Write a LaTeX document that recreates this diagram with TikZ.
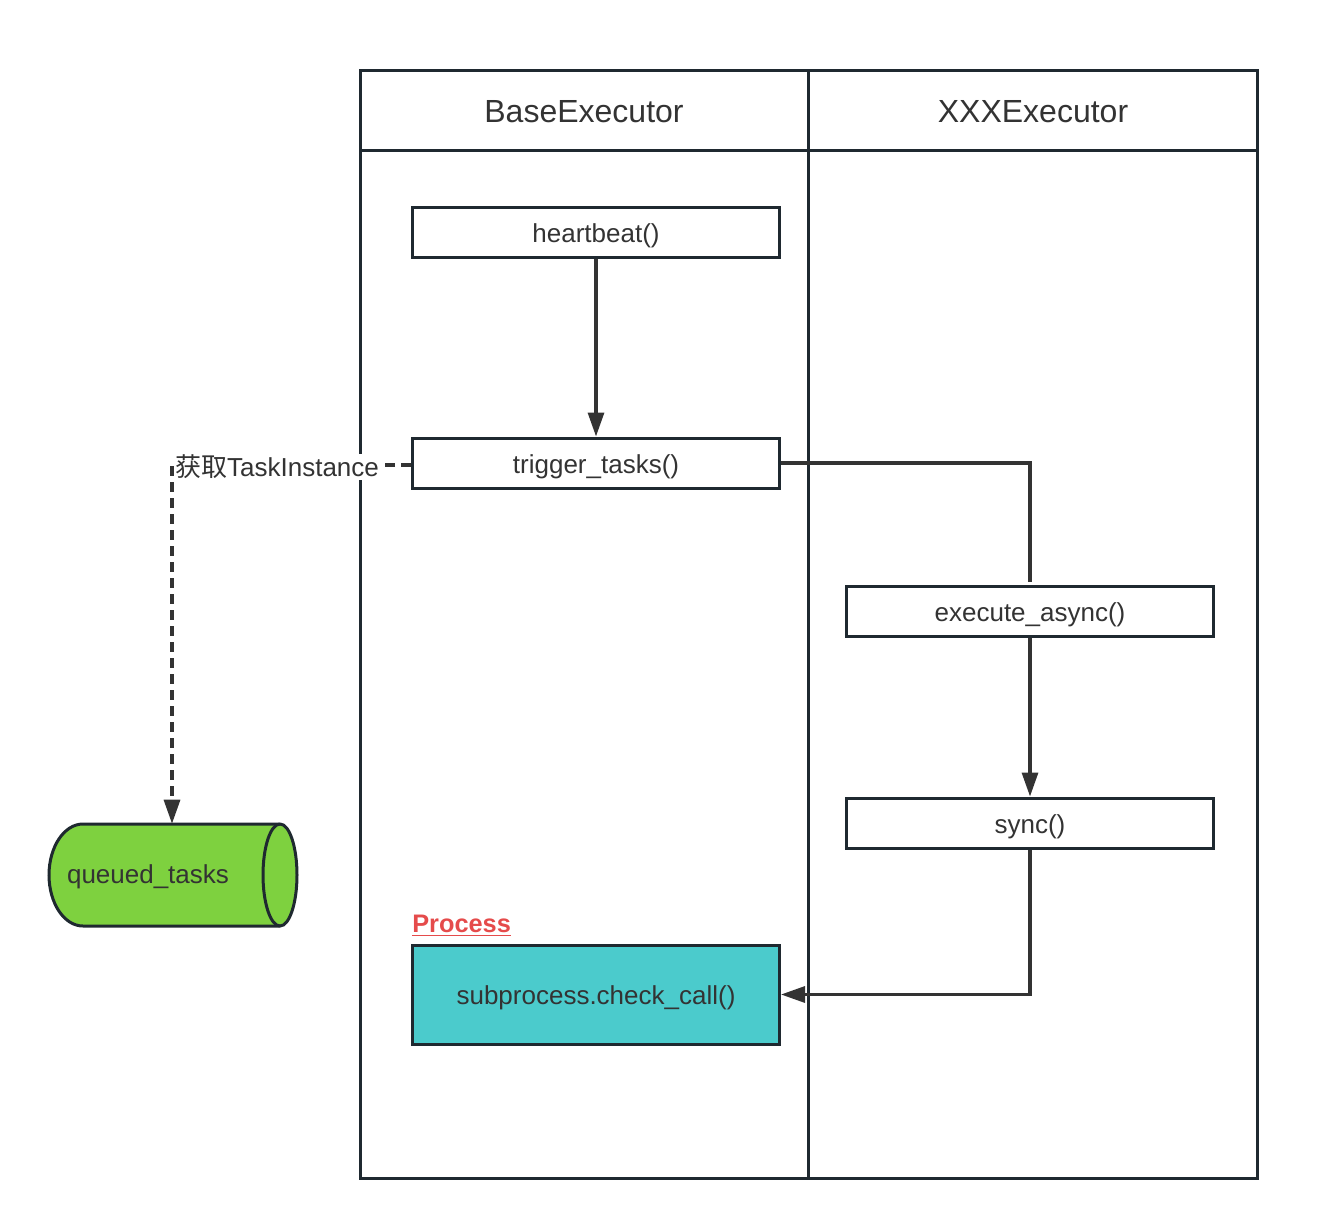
\documentclass[tikz,border=0pt]{standalone}
\usepackage{fontspec}
\setmainfont{Liberation Sans}
\newfontfamily\cjk{Noto Sans CJK SC}
\usetikzlibrary{arrows.meta}
\definecolor{linec}{HTML}{1F2930}
\definecolor{arrc}{HTML}{333333}
\definecolor{txtc}{HTML}{333333}
\definecolor{cyanf}{HTML}{4BCBCC}
\definecolor{greenf}{HTML}{7ED13F}
\definecolor{redt}{HTML}{E54B4B}
\tikzset{
  boxnode/.style={draw=linec, line width=2.25pt, minimum width=275.25pt, minimum height=37.5pt, inner sep=0pt, text height=19pt, text depth=4pt, text=txtc, font=\fontsize{19.5}{23}\selectfont},
  headnode/.style={text=txtc, font=\fontsize{24}{28}\selectfont},
  lane/.style={draw=linec, line width=2.25pt},
  conn/.style={draw=arrc, line width=2.4pt},
  arr/.style={conn, -{Triangle[length=18pt,width=12pt]}},
  dashconn/.style={arr, dash pattern=on 7.5pt off 4.5pt},
}
\begin{document}
\begin{tikzpicture}[x=0.75pt,y=-0.75pt]
\useasboundingbox (0,0) rectangle (1344,1230);
% swimlanes
\draw[lane] (360,71) rectangle (1257,1178);
\draw[lane] (360,151) -- (1257,151);
\draw[lane] (808,71) -- (808,1178);
\node[headnode] (h1) at (584,112) {BaseExecutor};
\node[headnode] (h2) at (1033,112) {XXXExecutor};
% boxes
\node[boxnode] (hb) at (596,233) {heartbeat()};
\node[boxnode] (tt) at (596,463) {trigger\_tasks()};
\node[boxnode] (ea) at (1030,611) {execute\_async()};
\node[boxnode] (sy) at (1030,823) {sync()};
\node[boxnode, fill=cyanf, minimum height=74.25pt] (sc) at (596,994.5) {subprocess.check\_call()};
\node[anchor=south west, inner sep=0pt, text=redt, font=\fontsize{19}{23}\selectfont\bfseries] (proc) at (412,936) {\underline{Process}};
% cylinder
\node[minimum width=185.25pt, minimum height=76.5pt, inner sep=0pt] (qt) at (172,875) {};
\draw[draw=linec, line width=2.25pt, fill=greenf]
  (83,824) -- (280,824)
  .. controls (289.4,824) and (297,846.8) .. (297,875)
  .. controls (297,903.2) and (289.4,926) .. (280,926)
  -- (83,926)
  .. controls (64.2,926) and (49,903.2) .. (49,875)
  .. controls (49,846.8) and (64.2,824) .. (83,824) -- cycle;
\draw[draw=linec, line width=2.25pt]
  (280,824) .. controls (270.6,824) and (263,846.8) .. (263,875)
  .. controls (263,903.2) and (270.6,926) .. (280,926);
\node[text=txtc, font=\fontsize{19.5}{23}\selectfont] (qtl) at (148,877) {queued\_tasks};
% connectors
\draw[arr] (hb.south) -- (tt.north);
\draw[conn] (tt.east) -| ([yshift=2.25pt]ea.north);
\draw[arr] (ea.south) -- (sy.north);
\draw[arr] (sy.south) |- (sc.east);
\draw[dashconn] ([yshift=-1.5pt]tt.west) -| (qt.north);
\node[fill=white, inner sep=1pt, text=txtc, font=\fontsize{19.5}{23}\selectfont] (lbl) at (277,467) {{\cjk 获取}TaskInstance};
\end{tikzpicture}
\end{document}
